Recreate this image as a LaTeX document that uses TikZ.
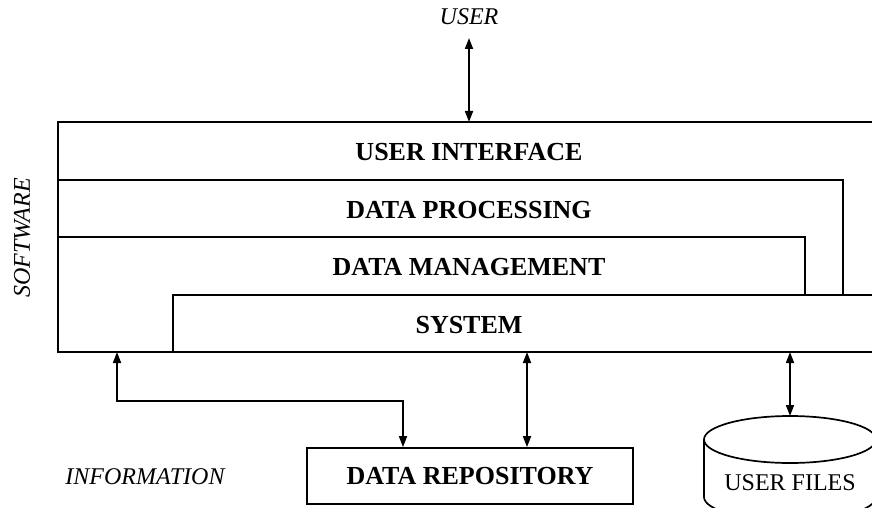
\documentclass[tikz,border=0pt]{standalone}
\usepackage{fontspec}
\setmainfont{Liberation Serif}
\usetikzlibrary{arrows.meta}
\begin{document}
\begin{tikzpicture}[x=1pt,y=-1pt,line width=1.7pt,
  layer/.style={font=\fontsize{26}{30}\selectfont\bfseries},
  tag/.style={font=\fontsize{24}{28}\selectfont\itshape},
  plain/.style={font=\fontsize{24}{28}\selectfont},
  link/.style={{Triangle[length=11pt,width=8pt]}-{Triangle[length=11pt,width=8pt]}},
]
\useasboundingbox (0,0) rectangle (872,508);
\clip (0,0) rectangle (872,508);

% software layers (stepped outlines)
\draw (872,122) -- (58,122) -- (58,352) -- (872,352);
\draw (58,180) -- (843,180) -- (843,295);
\draw (58,237) -- (805,237) -- (805,295);
\draw (173,352) -- (173,295) -- (872,295);

\node[layer] (ui)  at (469,152) {USER INTERFACE};
\node[layer] (dp)  at (469,210) {DATA PROCESSING};
\node[layer] (dm)  at (469,267) {DATA MANAGEMENT};
\node[layer] (sys) at (469,325) {SYSTEM};

% ports on the software block
\coordinate (swtop) at (469,122);
\coordinate (swbl)  at (117,352);
\coordinate (swbm)  at (527,352);
\coordinate (swbr)  at (790,352);
\coordinate (bend)  at (117,401);

% side labels
\node[tag] (user) at (469,17) {USER};
\coordinate (userport) at (469,38);
\node[tag,rotate=90] (sw) at (22,238) {SOFTWARE};
\node[tag] (info) at (145,477) {INFORMATION};

% data repository
\node[draw,layer,minimum width=326pt,minimum height=56pt,inner sep=0pt] (repo) at (470,476) {DATA REPOSITORY};

% user files drum
\coordinate (filestop) at (790,416);
\draw (790,439.5) ellipse [x radius=86pt,y radius=23.5pt];
\draw (704,439.5) -- (704,497) arc [start angle=180,end angle=360,x radius=86pt,y radius=23.5pt] -- (876,439.5);
\node[plain] (files) at (790,483) {USER FILES};

% connectors
\draw[link] (userport) -- (swtop);
\draw[link] (swbl) -- (bend) -| ([xshift=-67pt]repo.north);
\draw[link] (swbm) -- (swbm |- repo.north);
\draw[link] (swbr) -- (filestop);
\end{tikzpicture}
\end{document}
